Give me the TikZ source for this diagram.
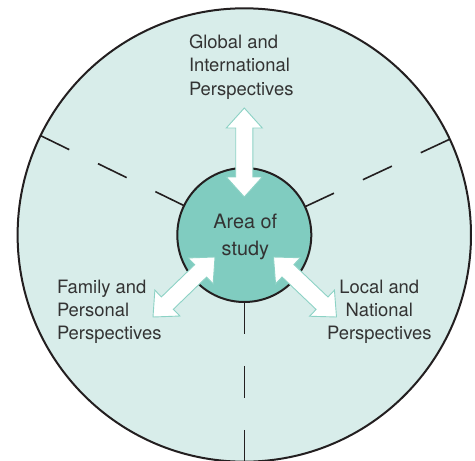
\documentclass[tikz,border=0pt]{standalone}
\usepackage{fontspec}
\setmainfont{TeX Gyre Heros}
\usetikzlibrary{calc}
\definecolor{outerfill}{HTML}{D8EDEA}
\definecolor{innerfill}{HTML}{80CCC0}
\definecolor{edgeline}{HTML}{231F20}
\definecolor{arrowedge}{HTML}{8CD2C5}
\definecolor{txtcol}{HTML}{333333}
\newcommand\dblarrow[2]{%
  \filldraw[dblarrowstyle] (#1)
    -- ($(#1)!20pt!(#2)!18pt!90:(#2)$)
    -- ($(#1)!20pt!(#2)!8.6pt!90:(#2)$)
    -- ($(#2)!20pt!(#1)!8.6pt!-90:(#1)$)
    -- ($(#2)!20pt!(#1)!18pt!-90:(#1)$)
    -- (#2)
    -- ($(#2)!20pt!(#1)!18pt!90:(#1)$)
    -- ($(#2)!20pt!(#1)!8.6pt!90:(#1)$)
    -- ($(#1)!20pt!(#2)!8.6pt!-90:(#2)$)
    -- ($(#1)!20pt!(#2)!18pt!-90:(#2)$)
    -- cycle;}
\begin{document}
\begin{tikzpicture}[x=1pt,y=-1pt,
  disc/.style={circle, inner sep=0pt, outer sep=0pt, draw=edgeline, line width=2pt},
  divider/.style={draw=edgeline, line width=1.6pt, dash pattern=on 31.94pt off 31.94pt},
  dblarrowstyle/.style={fill=white, draw=arrowedge, line width=0.9pt, line join=miter},
  persp/.style={inner sep=0pt, outer sep=0pt, text=txtcol, font=\fontsize{18.4}{23.2}\selectfont},
  centertext/.style={inner sep=0pt, outer sep=0pt, text=txtcol, align=center, font=\fontsize{19.8}{26.8}\selectfont}]
\useasboundingbox (0,0) rectangle (475,461);
\node[disc, fill=outerfill, minimum size=453.4pt] (outer) at (244.3,235) {};
\node[disc, fill=innerfill, minimum size=134pt] (inner) at (244.3,235) {};
\draw[divider] (inner.154.5) -- (outer.154.5);
\draw[divider] (inner.25.5) -- (outer.25.5);
\draw[divider] (inner.270) -- (outer.270);
\node[centertext, anchor=north] (area) at (245.3,213.8) {Area of\\study};
\node[persp, align=left, anchor=north west] (global) at (189,34.9) {Global and\\International\\Perspectives};
\node[persp, align=left, anchor=north west] (family) at (57,279.9) {Family and\\Personal\\Perspectives};
\node[persp, align=center, anchor=north] (local) at (379.3,279.9) {Local and\\National\\Perspectives};
\coordinate (gIn) at (244.3,197);
\coordinate (gOut) at (244.3,108);
\coordinate (fIn) at (215,257);
\coordinate (fOut) at (153,317);
\coordinate (lIn) at (273.5,257);
\coordinate (lOut) at (336.5,317);
\dblarrow{gIn}{gOut}
\dblarrow{fIn}{fOut}
\dblarrow{lIn}{lOut}
\end{tikzpicture}
\end{document}
